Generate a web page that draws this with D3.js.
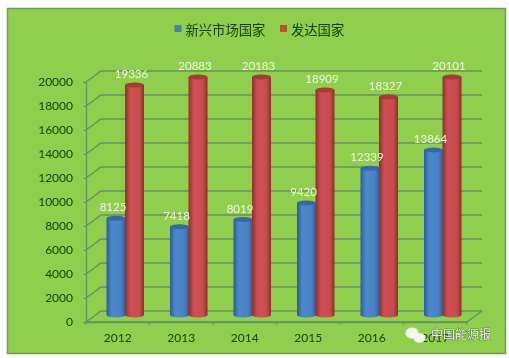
<!DOCTYPE html>
<html>
<head>
<meta charset="utf-8">
<script src="https://cdn.jsdelivr.net/npm/d3@7"></script>
<style>
    html, body { margin: 0; padding: 0; background: #fff; }
    svg { display: block; }
</style>
</head>
<body>
<svg id="drawing_region"></svg>
<script>
const years = ['2012', '2013', '2014', '2015', '2016', '2017'];
const seriesNames = ['新兴市场国家', '发达国家'];
const emerging = [8125, 7418, 8019, 9420, 12339, 13864];
const developed = [19336, 20883, 20183, 18909, 18327, 20101];
const yTicks = [0, 2000, 4000, 6000, 8000, 10000, 12000, 14000, 16000, 18000, 20000];

const config = {
    width: 509,
    height: 358,
    plot: { left: 86, right: 467, top: 82, bottom: 322 },
    depth: { x: 15, y: 11 },
    tops: ['#3468a8', '#a53a36'],
    grid: '#6b8f5e',
    text: '#173a0c'
};

const svg = d3.select('#drawing_region')
    .attr('width', config.width)
    .attr('height', config.height);

const defs = svg.append('defs');

// the reference is a soft jpeg, so take the edge off everything
defs.append('filter').attr('id', 'soft')
    .append('feGaussianBlur').attr('stdDeviation', 0.35);

// cylinder shading
const shades = [['#2a5d9c', '#4d88ca', '#4a82c4', '#2c5f9e'], ['#8f2f2a', '#cc5054', '#c94e50', '#8e2e28']];
shades.forEach((stops, i) => {
    const grad = defs.append('linearGradient').attr('id', 'cyl' + i);
    [0, 0.28, 0.75, 1].forEach((o, j) => {
        grad.append('stop').attr('offset', o).attr('stop-color', stops[j]);
    });
});

const chart = svg.append('g').attr('filter', 'url(#soft)');

// background panel
chart.append('rect')
    .attr('x', 7.5).attr('y', 8.5)
    .attr('width', 498).attr('height', 345)
    .attr('fill', '#90cf4e')
    .attr('stroke', '#6f9a58')
    .attr('stroke-width', 1.5);

const plot = config.plot;
const depth = config.depth;

const xscale = d3.scaleBand().domain(years).range([plot.left, plot.right]);
const yscale = d3.scaleLinear().domain([0, 20000]).range([plot.bottom, plot.top]);
// bars stand half way into the box, and the axis stops at 20000
const ybar = d3.scaleLinear().domain([0, 20000])
    .range([plot.bottom - 7, plot.top - 5])
    .clamp(true);
const xinner = d3.scaleBand().domain(seriesNames).range([-18.5, 18.5]);
const barWidth = 19;
const capHeight = 2.5;

// walls: gridlines run up the side and along the back
const wall = chart.append('g')
    .attr('fill', 'none')
    .attr('stroke', config.grid)
    .attr('stroke-width', 1.3);

wall.selectAll('path.grid')
    .data(yTicks)
    .enter()
    .append('path')
    .attr('class', 'grid')
    .attr('d', d => {
        const y = yscale(d);
        return `M${plot.left},${y}L${plot.left + depth.x},${y - depth.y}H${plot.right + depth.x}`;
    });

wall.append('path')
    .attr('d', `M${plot.left},${plot.bottom}H${plot.right}L${plot.right + depth.x},${plot.bottom - depth.y}`);

// axes
const yaxis = d3.axisLeft(yscale).tickValues(yTicks).tickFormat(d3.format('d')).tickSize(3).tickPadding(10);
const xaxis = d3.axisBottom(xscale).tickSize(0).tickPadding(11);

const yaxisGroup = chart.append('g')
    .attr('transform', `translate(${plot.left}, 0)`)
    .call(yaxis);
const xaxisGroup = chart.append('g')
    .attr('transform', `translate(0, ${plot.bottom})`)
    .call(xaxis);

// tick marks on the floor edge
xaxisGroup.selectAll('line.edge')
    .data(d3.range(years.length + 1))
    .enter()
    .append('line')
    .attr('class', 'edge')
    .attr('x1', i => plot.left + i * xscale.step())
    .attr('x2', i => plot.left + i * xscale.step())
    .attr('y1', 0)
    .attr('y2', 3)
    .attr('stroke', config.grid);

[yaxisGroup, xaxisGroup].forEach(g => {
    g.select('.domain').attr('stroke', config.grid).attr('stroke-width', 1.3);
    g.selectAll('.tick line').attr('stroke', config.grid);
    g.selectAll('text')
        .attr('font-family', 'Lato, sans-serif')
        .attr('font-size', 12)
        .attr('fill', config.text);
});

// bars
const barCenter = (year, name) => xscale(year) + xscale.bandwidth() / 2 + depth.x / 2 + xinner(name) + xinner.bandwidth() / 2;

[emerging, developed].forEach((values, s) => {
    const name = seriesNames[s];
    const bars = chart.append('g').selectAll('g')
        .data(values)
        .enter()
        .append('g');

    bars.append('ellipse')
        .attr('cx', (d, i) => barCenter(years[i], name))
        .attr('cy', ybar(0))
        .attr('rx', barWidth / 2)
        .attr('ry', capHeight)
        .attr('fill', `url(#cyl${s})`);

    bars.append('rect')
        .attr('x', (d, i) => barCenter(years[i], name) - barWidth / 2)
        .attr('y', d => ybar(d))
        .attr('width', barWidth)
        .attr('height', d => ybar(0) - ybar(d))
        .attr('fill', `url(#cyl${s})`);

    bars.append('ellipse')
        .attr('cx', (d, i) => barCenter(years[i], name))
        .attr('cy', d => ybar(d))
        .attr('rx', barWidth / 2)
        .attr('ry', capHeight)
        .attr('fill', config.tops[s]);
});

// data labels go over every bar
[emerging, developed].forEach((values, s) => {
    chart.append('g').selectAll('text')
        .data(values)
        .enter()
        .append('text')
        .attr('x', (d, i) => barCenter(years[i], seriesNames[s]) - 3)
        .attr('y', d => ybar(d) - 7)
        .attr('text-anchor', 'middle')
        .attr('font-family', 'Lato, sans-serif')
        .attr('font-size', 11.5)
        .attr('fill', '#eef7e4')
        .text(d => d);
});

// legend
const legendX = [174.5, 280];
const legend = chart.append('g').selectAll('g')
    .data(seriesNames)
    .enter()
    .append('g')
    .attr('transform', (d, i) => `translate(${legendX[i]}, 25)`);

legend.append('rect')
    .attr('width', 7)
    .attr('height', 7)
    .attr('fill', (d, i) => i === 0 ? '#4a7fb5' : '#c0502a');

legend.append('text')
    .attr('x', 11)
    .attr('y', 9.5)
    .attr('font-family', '"Noto Sans CJK SC", sans-serif')
    .attr('font-size', 13.3)
    .attr('fill', config.text)
    .text(d => d);

// watermark
const mark = chart.append('g');
mark.append('ellipse')
    .attr('cx', 412).attr('cy', 333).attr('rx', 6.5).attr('ry', 5.5)
    .attr('fill', '#f4f7f0');
mark.append('ellipse')
    .attr('cx', 419.5).attr('cy', 338).attr('rx', 6).attr('ry', 4.8)
    .attr('fill', '#f4f7f0');
mark.append('text')
    .attr('x', 431)
    .attr('y', 339)
    .attr('font-family', '"Noto Sans CJK SC", sans-serif')
    .attr('font-size', 12)
    .attr('fill', '#f2f5ee')
    .attr('stroke', '#3c5a30')
    .attr('stroke-width', 0.7)
    .attr('paint-order', 'stroke')
    .text('中国能源报');
</script>
</body>
</html>
